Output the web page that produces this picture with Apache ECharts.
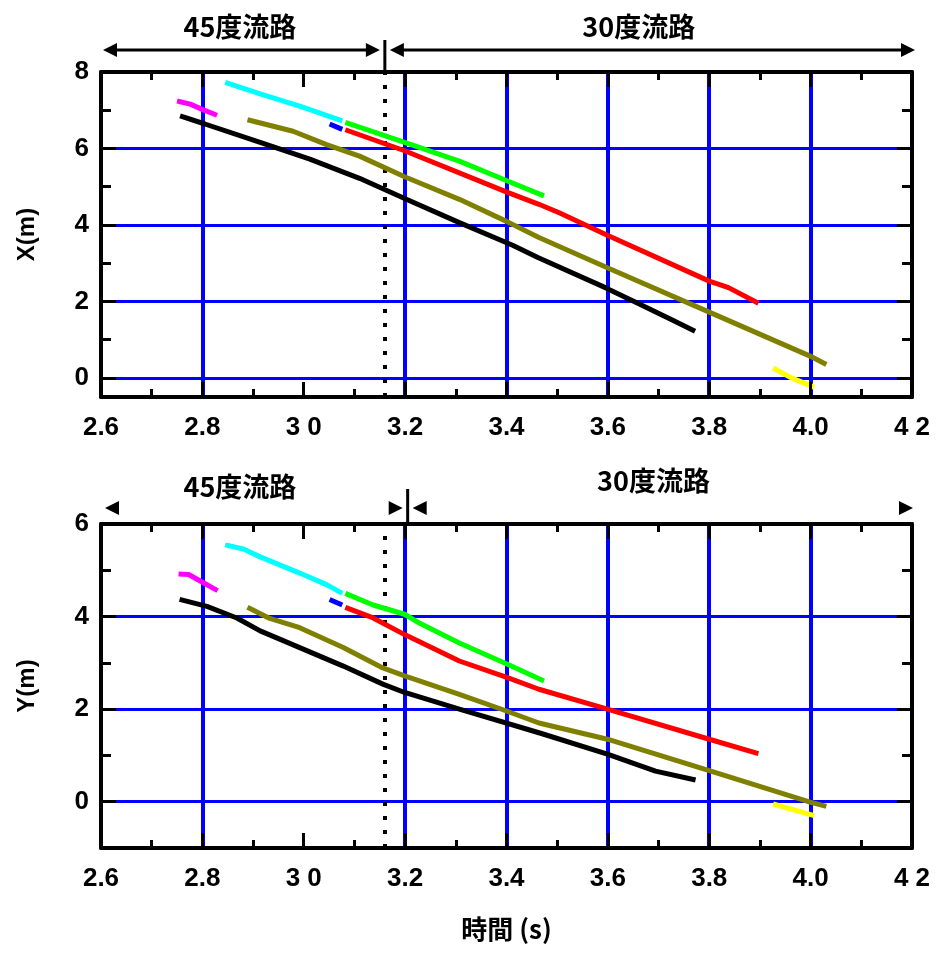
<!DOCTYPE html>
<html><head><meta charset="utf-8">
<script src="https://cdn.jsdelivr.net/npm/echarts@6/dist/echarts.min.js"></script>
<style>html,body{margin:0;padding:0;background:#fff}#c{width:937px;height:954px}</style>
</head><body><div id="c"></div>
<script>
// ---------- data ----------
const xTickLabels = ['2.6', '2.8', '3 0', '3.2', '3.4', '3.6', '3.8', '4.0', '4 2'];
const xMin = 2.6, xMax = 4.2, xStep = 0.2;
const gridLinesX = [2.8, 3.2, 3.4, 3.6, 3.8, 4.0];
const boundaryTime = 3.16;           // dotted line
const bottomSeparatorTime = 3.205;   // separator mark above lower plot
const sectionLabels = ['45度流路', '30度流路'];

const yTicksTop = [0, 2, 4, 6, 8];
const yMinorTop = [1, 3, 5, 7];
const gridLinesTopY = [0, 2, 4, 6];
const yTicksBottom = [0, 2, 4, 6];
const yMinorBottom = [1, 3, 5];
const gridLinesBottomY = [0, 2, 4];

const seriesColors = ['#ff00ff', '#000000', '#00ffff', '#0000ff', '#00ff00', '#ff0000', '#808000', '#ffff00'];

// X(m) vs time
const magentaX = [[2.750, 7.24], [2.776, 7.16], [2.802, 7.01], [2.829, 6.87]];
const blackX = [[2.756, 6.85], [2.805, 6.64], [2.914, 6.16], [3.012, 5.72], [3.110, 5.22], [3.199, 4.69], [3.307, 4.06], [3.412, 3.47], [3.463, 3.14], [3.595, 2.36], [3.661, 1.94], [3.726, 1.52], [3.772, 1.22]];
const cyanX = [[2.845, 7.73], [2.914, 7.43], [2.992, 7.11], [3.076, 6.72]];
const blueX = [[3.051, 6.64], [3.076, 6.50]];
const greenX = [[3.082, 6.68], [3.199, 6.16], [3.307, 5.67], [3.402, 5.15], [3.474, 4.76]];
const redX = [[3.082, 6.49], [3.199, 5.94], [3.402, 4.85], [3.464, 4.54], [3.504, 4.32], [3.599, 3.73], [3.800, 2.53], [3.838, 2.36], [3.897, 1.95]];
const oliveX = [[2.889, 6.75], [2.979, 6.45], [3.045, 6.10], [3.110, 5.80], [3.199, 5.26], [3.307, 4.67], [3.399, 4.10], [3.464, 3.67], [3.599, 2.88], [3.800, 1.72], [3.999, 0.57], [4.031, 0.35]];
const yellowX = [[3.926, 0.26], [3.962, 0.00], [4.007, -0.24]];

// Y(m) vs time
const magentaY = [[2.753, 4.92], [2.773, 4.91], [2.802, 4.73], [2.830, 4.56]];
const blackY = [[2.755, 4.37], [2.809, 4.22], [2.868, 3.97], [2.914, 3.69], [2.992, 3.33], [3.078, 2.93], [3.156, 2.54], [3.199, 2.36], [3.307, 2.00], [3.464, 1.49], [3.599, 1.03], [3.694, 0.66], [3.773, 0.47]];
const cyanY = [[2.845, 5.55], [2.881, 5.46], [2.914, 5.29], [2.992, 4.94], [3.045, 4.69], [3.076, 4.50]];
const blueY = [[3.051, 4.37], [3.076, 4.25]];
const greenY = [[3.082, 4.50], [3.137, 4.25], [3.199, 4.05], [3.228, 3.86], [3.307, 3.43], [3.402, 2.97], [3.474, 2.61]];
const redY = [[3.082, 4.20], [3.137, 3.97], [3.199, 3.61], [3.307, 3.04], [3.402, 2.68], [3.464, 2.43], [3.599, 2.00], [3.800, 1.35], [3.897, 1.04]];
const oliveY = [[2.889, 4.20], [2.933, 3.96], [2.992, 3.76], [3.078, 3.33], [3.156, 2.89], [3.199, 2.72], [3.307, 2.32], [3.400, 1.96], [3.464, 1.70], [3.599, 1.35], [3.800, 0.67], [3.999, -0.01], [4.031, -0.10]];
const yellowY = [[3.926, -0.05], [4.007, -0.30]];

const topSeries = [magentaX, blackX, cyanX, blueX, greenX, redX, oliveX, yellowX];
const bottomSeries = [magentaY, blackY, cyanY, blueY, greenY, redY, oliveY, yellowY];

// ---------- chart ----------
const FONT = 'Liberation Sans, Arial, sans-serif';
const CJK = '"Noto Sans CJK JP", "Noto Sans CJK SC", sans-serif';
const chart = echarts.init(document.getElementById('c'), null, { renderer: 'canvas' });

const grids = [
  { left: 101, width: 811, top: 72, height: 325 },
  { left: 101, width: 811, top: 524, height: 324 }
];

function xAxisPair(gi, name) {
  const base = {
    type: 'value', gridIndex: gi, min: xMin, max: xMax, interval: xStep, z: 10,
    axisLine: { show: true, onZero: false, lineStyle: { color: '#000', width: 4 } },
    axisTick: { show: true, inside: true, length: 15, lineStyle: { color: '#000', width: 3 } },
    minorTick: { show: true, splitNumber: 2, length: 8, lineStyle: { color: '#000', width: 3 } },
    splitLine: { show: false }, minorSplitLine: { show: false }
  };
  return [
    Object.assign({}, base, {
      position: 'bottom',
      axisLabel: {
        show: true, margin: 18, color: '#000', fontSize: 26, fontWeight: 'bold', fontFamily: FONT,
        formatter: v => xTickLabels[Math.round((v - xMin) / xStep)] || ''
      },
      name: name || '', nameLocation: 'middle', nameGap: 68,
      nameTextStyle: { fontSize: 26, fontWeight: 'bold', color: '#000', fontFamily: CJK }
    }),
    Object.assign({}, base, { position: 'top', axisLabel: { show: false } })
  ];
}

function yAxisSet(gi, min, max, major, minor, name) {
  const common = {
    type: 'value', gridIndex: gi, min: min, max: max, z: 10,
    splitLine: { show: false }, minorTick: { show: false }
  };
  const out = [];
  ['left', 'right'].forEach(pos => {
    out.push(Object.assign({}, common, {
      position: pos,
      axisLine: { show: true, onZero: false, lineStyle: { color: '#000', width: 4 } },
      axisTick: { show: true, inside: true, length: 15, customValues: major, lineStyle: { color: '#000', width: 3 } },
      axisLabel: pos === 'left' ? {
        show: true, customValues: major, margin: 12, color: '#000', fontSize: 26, fontWeight: 'bold', fontFamily: FONT
      } : { show: false },
      name: pos === 'left' ? name : '', nameLocation: 'middle', nameGap: 62, nameRotate: 90,
      nameTextStyle: { fontSize: 24, fontWeight: 'bold', color: '#000', fontFamily: FONT }
    }));
    out.push(Object.assign({}, common, {
      position: pos,
      axisLine: { show: false },
      axisTick: { show: true, inside: true, length: 10, customValues: minor, lineStyle: { color: '#000', width: 3 } },
      axisLabel: { show: false }
    }));
  });
  return out;
}

const xAxes = [].concat(xAxisPair(0, ''), xAxisPair(1, '時間 (s)'));
const yAxes = [].concat(
  yAxisSet(0, -0.5, 8, yTicksTop, yMinorTop, 'X(m)'),
  yAxisSet(1, -1, 6, yTicksBottom, yMinorBottom, 'Y(m)')
);

function gridMarkLine(yLines) {
  const d = [];
  gridLinesX.forEach(v => d.push({ xAxis: v, lineStyle: { color: '#0000ff', width: 4, type: 'solid' } }));
  yLines.forEach(v => d.push({ yAxis: v, lineStyle: { color: '#0000ff', width: 3, type: 'solid' } }));
  d.push({ xAxis: boundaryTime, lineStyle: { color: '#000', width: 4, type: [4, 10] } });
  return {
    silent: true, symbol: ['none', 'none'], z: 1, animation: false,
    label: { show: false }, emphasis: { disabled: true }, data: d
  };
}

const series = [];
[topSeries, bottomSeries].forEach((set, gi) => {
  set.forEach((data, k) => {
    const s = {
      type: 'line', data: data, xAxisIndex: gi * 2, yAxisIndex: gi * 4,
      showSymbol: false, symbol: 'none', z: 3, animation: false, silent: true,
      lineStyle: { color: seriesColors[k], width: 5 }
    };
    if (k === 1) s.markLine = gridMarkLine(gi === 0 ? gridLinesTopY : gridLinesBottomY);
    series.push(s);
  });
});

chart.setOption({
  animation: false,
  backgroundColor: '#fff',
  grid: grids,
  xAxis: xAxes,
  yAxis: yAxes,
  series: series
});

// ---------- annotations above the plots ----------
function arrowHead(tipX, y, dir) {
  return {
    type: 'polygon', z: 20,
    shape: { points: [[tipX, y], [tipX - dir * 14, y - 7], [tipX - dir * 14, y + 7]] },
    style: { fill: '#000' }
  };
}
function hline(x1, x2, y) {
  return { type: 'line', z: 20, shape: { x1: x1, y1: y, x2: x2, y2: y }, style: { stroke: '#000', lineWidth: 3 } };
}
function vline(x, y1, y2) {
  return { type: 'line', z: 20, shape: { x1: x, y1: y1, x2: x, y2: y2 }, style: { stroke: '#000', lineWidth: 3 } };
}
function label(txt, x, y) {
  return {
    type: 'text', z: 20, x: x, y: y,
    style: { text: txt, align: 'center', verticalAlign: 'middle', fill: '#000', font: 'bold 27px ' + CJK }
  };
}

const pxTop = v => chart.convertToPixel({ xAxisIndex: 0 }, v);
const pxBot = v => chart.convertToPixel({ xAxisIndex: 2 }, v);
const g = [];
// upper plot
{
  const ay = 50, b = pxTop(boundaryTime), l = pxTop(xMin) + 2, r = pxTop(xMax) + 3;
  g.push(label(sectionLabels[0], pxTop(2.874), 27));
  g.push(label(sectionLabels[1], pxTop(3.661), 27));
  g.push(hline(l + 8, b - 12, ay), arrowHead(l, ay, -1), arrowHead(b - 5, ay, 1));
  g.push(hline(b + 12, r - 8, ay), arrowHead(b + 5, ay, -1), arrowHead(r, ay, 1));
  g.push(vline(b, 40, 72));
}
// lower plot
{
  const ay = 508, s = pxBot(bottomSeparatorTime), l = pxBot(xMin) + 4, r = pxBot(xMax) + 1;
  g.push(label(sectionLabels[0], pxBot(2.874), 487));
  g.push(label(sectionLabels[1], pxBot(3.69), 481));
  g.push(arrowHead(l, ay, -1), arrowHead(s - 5, ay, 1), arrowHead(s + 5, ay, -1), arrowHead(r, ay, 1));
  g.push(vline(s, 489, 524));
}
chart.setOption({ graphic: g });
</script>
</body></html>
